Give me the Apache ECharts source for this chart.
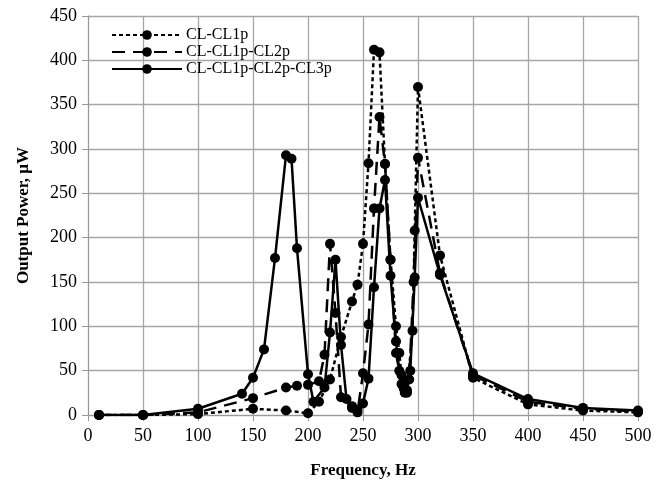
<!DOCTYPE html>
<html>
<head>
<meta charset="utf-8">
<script src="https://cdn.jsdelivr.net/npm/echarts@6/dist/echarts.min.js"></script>
<style>
  html, body { margin: 0; padding: 0; background: #fff; }
  #chart { width: 667px; height: 486px; }
</style>
</head>
<body>
<div id="chart"></div>
<script>
// frequency (Hz), output power (µW)
const cl1p = [
  [10, 0], [50, 0], [100, 1], [150, 7], [180, 5], [200, 2], [210, 15], [220, 40], [230, 88],
  [240, 128], [245, 147], [250, 193], [255, 284], [260, 412], [265, 409], [270, 283], [275, 175],
  [280, 100], [283, 70], [285, 45], [287, 30], [290, 25], [295, 95], [297, 208], [300, 370],
  [320, 180], [350, 42], [400, 12], [450, 5], [500, 3]
]
const cl1pCl2p = [
  [10, 0], [50, 0], [100, 3], [150, 19], [180, 31], [190, 33], [200, 34], [210, 38], [215, 68],
  [220, 193], [225, 115], [230, 20], [240, 10], [245, 3], [250, 47], [255, 102], [260, 233],
  [265, 336], [270, 283], [275, 175], [280, 70], [285, 35], [288, 25], [292, 40], [296, 150],
  [300, 290], [320, 160], [350, 45], [400, 15], [450, 7], [500, 4]
]
const cl1pCl2pCl3p = [
  [10, 0], [50, 0], [100, 7], [140, 24], [150, 42], [160, 74], [170, 177], [180, 293], [185, 289],
  [190, 188], [200, 46], [205, 15], [215, 31], [220, 93], [225, 175], [230, 79], [235, 18],
  [240, 8], [245, 6], [250, 13], [255, 41], [260, 144], [265, 233], [270, 265], [275, 157],
  [280, 83], [283, 50], [286, 35], [290, 28], [293, 50], [297, 155], [300, 245], [320, 158],
  [350, 47], [400, 18], [450, 8], [500, 5]
]
const seriesNames = ['CL-CL1p', 'CL-CL1p-CL2p', 'CL-CL1p-CL2p-CL3p']
const lineTypes = [[4, 3], [13, 8], 'solid']

const font = '"Liberation Serif", "Times New Roman", serif'
const chart = echarts.init(document.getElementById('chart'))

chart.setOption({
  animation: false,
  backgroundColor: '#fff',
  grid: { left: 88, right: 29, top: 16, bottom: 71 },
  legend: {
    left: 106, top: 22, orient: 'vertical', itemGap: 1,
    itemWidth: 70, itemHeight: 12,
    textStyle: { fontFamily: font, fontSize: 16, color: '#000', padding: [0, 0, 0, -1] },
    data: seriesNames
  },
  xAxis: {
    type: 'value', min: 0, max: 500, interval: 50,
    name: 'Frequency, Hz', nameLocation: 'middle', nameGap: 47,
    nameTextStyle: { fontFamily: font, fontSize: 17, fontWeight: 'bold', color: '#000' },
    axisLine: { show: true, lineStyle: { color: '#999', width: 1 } },
    axisTick: { show: true, length: 6, lineStyle: { color: '#999' } },
    axisLabel: { fontFamily: font, fontSize: 18, color: '#000', margin: 12 },
    splitLine: { show: true, lineStyle: { color: '#a6a6a6', width: 1.3 } }
  },
  yAxis: {
    type: 'value', min: 0, max: 450, interval: 50,
    name: 'Output Power, µW', nameLocation: 'middle', nameGap: 56,
    nameTextStyle: { fontFamily: font, fontSize: 17, fontWeight: 'bold', color: '#000' },
    axisLine: { show: true, lineStyle: { color: '#999', width: 1 } },
    axisTick: { show: true, length: 6, lineStyle: { color: '#999' } },
    axisLabel: { fontFamily: font, fontSize: 18, color: '#000', margin: 11 },
    splitLine: { show: true, lineStyle: { color: '#a6a6a6', width: 1.3 } }
  },
  series: [cl1p, cl1pCl2p, cl1pCl2pCl3p].map((data, i) => ({
    name: seriesNames[i],
    type: 'line',
    data,
    symbol: 'circle', symbolSize: 10,
    itemStyle: { color: '#000' },
    lineStyle: { color: '#000', width: 2.5, type: lineTypes[i] },
    z: 3 - i
  }))
})
</script>
</body>
</html>
